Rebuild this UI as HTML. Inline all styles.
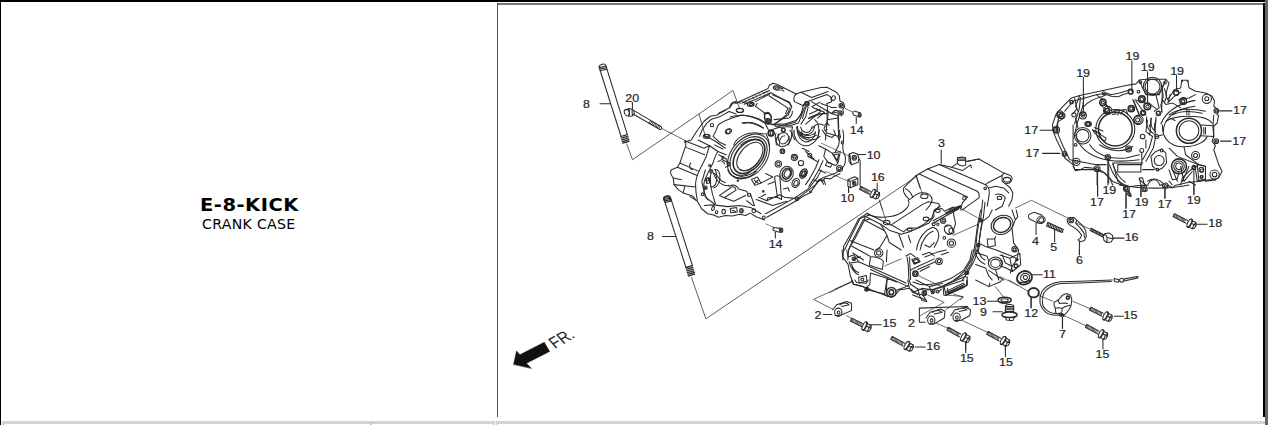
<!DOCTYPE html>
<html><head><meta charset="utf-8"><title>E-8-KICK CRANK CASE</title>
<style>
html,body{margin:0;padding:0;background:#fff;}
body{width:1269px;height:425px;overflow:hidden;position:relative;font-family:"DejaVu Sans","Liberation Sans",sans-serif;}
.b{position:absolute;}
#ttl{position:absolute;left:0;top:0;width:497px;color:#000;white-space:nowrap;}
#ttl .t1{position:absolute;left:199.6px;top:194px;font-weight:bold;font-size:18px;line-height:22px;letter-spacing:0.5px;transform-origin:0 0;transform:scaleX(1.08);}
#ttl .t2{position:absolute;left:202.4px;top:216.2px;font-size:13.3px;line-height:18px;letter-spacing:0.3px;transform-origin:0 0;transform:scaleX(1.06);}
svg{position:absolute;left:0;top:0;}
svg path,svg ellipse,svg circle,svg line,svg rect,svg polyline,svg polygon{vector-effect:non-scaling-stroke;}
svg text{font-family:"Liberation Sans",sans-serif;font-size:10.2px;fill:#222;}
</style></head><body>
<div class="b" style="left:0;top:0;width:1266px;height:2px;background:#000"></div>
<div class="b" style="left:0;top:0;width:1px;height:425px;background:#000"></div>
<div class="b" style="left:1265px;top:0;width:3px;height:425px;background:#666"></div>
<div class="b" style="left:1263px;top:3px;width:2px;height:414px;background:#000"></div>
<div class="b" style="left:497px;top:3px;width:766px;height:2px;background:#777"></div>
<div class="b" style="left:497px;top:3px;width:1px;height:414px;background:#555"></div>
<div class="b" style="left:2px;top:421px;width:1263px;height:3px;background:#d3d3d3"></div>
<div class="b" style="left:2px;top:424px;width:3px;height:1px;background:#d3d3d3"></div>
<div class="b" style="left:370px;top:422px;width:2px;height:3px;background:#c6c6c6"></div>
<div class="b" style="left:492px;top:424px;width:6px;height:1px;background:#d8d8d8"></div><div class="b" style="left:494.6px;top:421px;width:1.6px;height:4px;background:#f6f6f6"></div>
<div id="ttl"><div class="t1">E-8-KICK</div><div class="t2">CRANK CASE</div></div>
<svg width="1269" height="425" viewBox="0 0 1269 425">
<g fill="none" stroke="#2a2a2a" stroke-width="1.05" stroke-linecap="round" stroke-linejoin="round">


<g transform="translate(660,70) scale(0.16548)">
<path d="M672,330 L760,325 L820,305 C840,295 850,270 860,250 M690,300 L780,290 C795,280 800,265 800,250 M672,365 C700,345 760,340 800,345"/>
<circle cx="672" cy="382" r="18"/><circle cx="745" cy="362" r="12"/>
<path d="M800,345 C790,380 800,400 815,423 M830,340 C830,370 850,390 880,392 C910,390 930,370 935,340 M850,345 C855,365 870,378 890,378 C905,375 915,360 920,340 M935,300 C960,320 965,360 955,400 M900,290 C930,270 980,262 1010,262 M1010,240 L1010,300 L1000,423 M1030,262 L1075,275 L1080,423 M1010,300 L1075,290 M1000,340 C990,345 988,360 1000,368 L1010,360 M1010,380 L1075,400"/>
</g>
<g transform="translate(730,78) scale(0.11820)">
<path d="M90,195 L320,90 M105,210 L335,105 M120,222 L345,125"/>
<path d="M130,190 L138,202 M160,176 L168,188 M190,162 L198,174 M220,148 L228,160 M250,134 L258,146 M280,120 L288,132 M305,108 L313,120" stroke-width="0.8"/>
<path d="M320,90 L335,60 L365,45 L400,55 L560,135 M345,125 L500,210 L520,245 M330,150 L490,255 L470,300"/>
<ellipse cx="395" cy="85" rx="30" ry="17" transform="rotate(15 395 85)"/><ellipse cx="395" cy="85" rx="17" ry="9" transform="rotate(15 395 85)"/><path d="M428,78 L455,112 M452,82 L432,105"/>
<path d="M215,200 L335,135 M500,250 C510,290 470,320 430,350 L370,395 M215,240 L300,300 L330,295 L345,320 M230,215 L215,240"/>
<ellipse cx="175" cy="222" rx="28" ry="17" stroke-width="1.4"/><ellipse cx="178" cy="224" rx="14" ry="8"/><path d="M140,215 L100,200"/>
<ellipse cx="85" cy="275" rx="30" ry="17"/>
<path d="M0,250 C20,210 40,200 50,215 L90,195"/>
<circle cx="320" cy="365" r="22"/><circle cx="320" cy="365" r="10"/><path d="M290,300 L320,290 L345,310 L350,350 M290,300 L292,345"/>
<path d="M0,330 C100,300 200,320 290,380 M100,380 C150,370 220,390 280,423 M345,390 L420,400 L520,400"/>
<path d="M560,135 L600,120 L770,80 L820,78 L900,120 L925,150 L930,195 L960,210 L970,240 L955,265 L960,300 L940,320"/>
<path d="M560,135 C540,150 535,180 545,200 L620,235 L640,205 L820,140 L850,160 L860,200 L820,215 M600,120 L690,165 M690,165 L830,115"/>
<circle cx="650" cy="220" r="20"/><circle cx="650" cy="220" r="10"/><ellipse cx="875" cy="170" rx="16" ry="20" transform="rotate(20 875 170)"/><circle cx="940" cy="235" r="18"/><circle cx="940" cy="235" r="8"/><circle cx="930" cy="295" r="18"/><circle cx="930" cy="295" r="8"/>
<path d="M630,250 L600,330 L580,380 L520,400 M660,250 L640,330 L600,390 M690,200 L790,260 L860,300 L900,290 M700,250 L770,280 L700,340 L640,390 M730,260 L800,290 L740,340 M820,215 L830,300 L820,400 M915,315 L920,423 M860,300 C880,270 900,270 915,280 M770,215 L860,250 L900,250"/>
<path d="M970,255 L1040,290" stroke-width="0.7"/>
<path d="M1040,285 C1035,300 1045,315 1055,318 L1095,330 M1050,280 L1100,295"/><ellipse cx="1097" cy="312" rx="13" ry="18"/><ellipse cx="1097" cy="312" rx="7" ry="10"/>
<path d="M1068,335 L1068,385"/>
<path d="M700,423 C720,390 760,380 790,400 M800,400 L820,380 L840,400"/>
</g>
<g transform="translate(670,95) scale(0.11820)">
<path d="M120,400 L180,380 L230,300 L290,220 L340,180 L400,170 L420,150 L500,110 L520,70 L550,55 L600,70 M250,350 L270,300 L310,240 L350,205 L420,185 L500,140 L560,160"/>
<path d="M365,350 L385,310 L410,250 L470,215 L540,190 L610,170 L680,180 L750,200 L800,230 L830,290 M365,350 L420,400 L470,423 M410,160 L470,130"/>
<ellipse cx="590" cy="130" rx="30" ry="17"/><ellipse cx="310" cy="350" rx="30" ry="17"/><circle cx="355" cy="255" r="14"/><ellipse cx="495" cy="308" rx="28" ry="19" transform="rotate(-30 495 308)"/>
<path d="M620,240 C680,225 740,240 790,280 M540,423 C560,360 640,320 720,320 L800,330 M600,423 C640,380 700,370 760,380"/>
<circle cx="835" cy="225" r="22"/><circle cx="835" cy="225" r="10"/><circle cx="855" cy="320" r="25"/><circle cx="960" cy="295" r="14"/>
<path d="M800,170 C810,150 845,150 855,180 L860,215 M800,170 L805,210"/>
<path d="M900,423 C890,370 920,310 970,320 C1010,330 1020,390 1000,423 M925,423 C920,380 940,345 970,345"/>
<path d="M1090,300 C1100,360 1180,380 1240,340 M1070,270 C1080,380 1200,410 1269,350 M1110,310 C1130,350 1190,355 1230,320"/>
<path d="M870,0 L1010,60 L1030,100 L1000,170 L880,250 M1130,80 L1110,160 L1060,230 L900,270 M1150,100 L1120,200 M1200,100 L1269,60 M1180,160 L1269,120 M1170,200 L1269,160 M880,250 L900,270"/>
<circle cx="1160" cy="70" r="14"/>
</g>
<g transform="translate(660,130) scale(0.16548)">
<path d="M150,65 L265,110 L300,95 M150,65 C160,80 158,95 150,110 L120,200 L105,225 L70,240 C60,250 62,268 80,290 L85,330 L110,360 L140,380 L200,400 L215,423"/>
<path d="M158,105 L270,150 M120,200 L235,250 M105,225 L225,275 M85,330 L215,345 M80,290 L130,300 M140,380 L150,340 M185,200 C175,215 178,235 195,240"/>
<path d="M300,95 C290,120 285,140 280,160 L235,250 C222,280 215,310 215,330 C215,370 220,400 225,423"/>
<path d="M350,130 C335,150 328,175 320,200 L290,260 C275,290 265,310 265,330 C262,360 265,390 290,423"/>
<path d="M230,60 L300,95 L350,130 L400,150 M270,35 L330,65 L395,110 M330,90 L380,115"/>
<ellipse cx="282" cy="35" rx="14" ry="8"/><ellipse cx="412" cy="8" rx="12" ry="14"/>
<rect x="276" y="292" width="18" height="16" transform="rotate(-15 285 300)"/><rect x="266" y="340" width="18" height="16" transform="rotate(-10 275 348)"/>
<circle cx="310" cy="250" r="9"/><circle cx="258" cy="388" r="8"/><circle cx="300" cy="215" r="6"/>
<g transform="rotate(-50 535 160)"><ellipse cx="535" cy="160" rx="152" ry="106"/><ellipse cx="535" cy="160" rx="136" ry="92"/><ellipse cx="537" cy="162" rx="118" ry="76" stroke-width="1.6"/><ellipse cx="540" cy="166" rx="100" ry="60"/><path d="M440,170 C450,215 500,232 560,225" /></g>
<path d="M330,240 C345,235 360,250 362,275 C365,310 350,340 325,350 M320,260 C340,262 348,290 340,315 C335,335 320,345 305,345"/>
<path d="M355,150 L400,175 L420,215 L395,225 M370,175 L405,195 M350,190 C365,180 385,190 390,205"/>
<circle cx="415" cy="205" r="10"/><circle cx="380" cy="165" r="6"/>
<path d="M640,20 C650,40 660,70 662,100 M660,0 C665,10 668,25 668,35"/>
<circle cx="668" cy="20" r="14"/>
<path d="M700,20 C690,50 700,90 730,100 C760,105 790,80 795,40 C798,20 790,5 785,0 M715,25 C710,50 720,80 740,85 C760,85 778,65 780,40"/>
<path d="M810,0 C805,40 830,85 870,95 C910,100 950,70 960,20 L962,0 M830,0 C830,35 850,65 880,72 C910,72 935,50 940,10 M850,15 C860,40 880,50 900,48"/>
<circle cx="740" cy="128" r="14"/><circle cx="740" cy="128" r="7"/>
<circle cx="715" cy="205" r="19"/><circle cx="715" cy="205" r="10"/>
<circle cx="812" cy="165" r="19"/><path d="M800,165 a12,12 0 1,1 12,12 a7,7 0 1,1 5,-12"/>
<circle cx="852" cy="200" r="16"/><circle cx="905" cy="152" r="12"/>
<ellipse cx="765" cy="265" rx="40" ry="46" transform="rotate(20 765 265)"/><ellipse cx="765" cy="265" rx="26" ry="31" transform="rotate(20 765 265)"/>
<ellipse cx="866" cy="262" rx="18" ry="23" transform="rotate(25 866 262)"/><ellipse cx="866" cy="262" rx="9" ry="13" transform="rotate(25 866 262)"/>
<path d="M1105,0 C1112,30 1112,50 1108,70 C1100,100 1105,130 1120,160 C1122,190 1118,210 1108,222 L1060,262 L1000,282 L960,300 L940,330 L900,362 L850,400 L820,423"/>
<path d="M1085,0 C1090,30 1088,60 1080,90 L1060,130 M1075,40 a8,10 0 1,0 16,0 a8,10 0 1,0 -16,0 M1095,75 a7,9 0 1,0 14,0 a7,9 0 1,0 -14,0"/>
<path d="M980,0 L1000,30 L1040,45 L1060,25 L1050,0 M960,95 L1000,115 L1040,140 L1090,130 L1075,200 L1040,140 M1050,150 L1080,145 L1070,185 Z M1000,115 L990,160 L1020,200 L1060,215 L1075,200 M1010,190 L1040,205 L1030,225 L1000,215 Z"/>
<circle cx="1085" cy="232" r="18"/><circle cx="1085" cy="232" r="9"/>
<path d="M960,180 L940,230 L900,300 L880,330 M985,185 L960,240 L925,300 L900,340 M960,240 L1000,260 M925,300 L950,310 L990,300 L1000,330"/>
<path d="M880,130 L930,175 M905,165 L950,190 M860,110 L900,130"/>
<path d="M975,80 L1150,160 M1000,250 L1140,310" stroke-width="0.6"/>
<path d="M25,423 L25,408 C35,400 55,402 60,412 L60,423" stroke-width="1.8"/>
</g>
<g transform="translate(690,170) scale(0.11820)">
<path d="M0,225 L60,260 L100,330 L150,370 L200,380 L240,400 L300,385 L360,390 L420,375 L470,385 L510,365 L560,395 L600,410 L630,423 M650,400 L900,260 L960,220 L1020,190 L1060,130 L1100,80 L1120,100 L1140,70 L1190,75 L1210,60 L1269,30"/>
<path d="M120,300 L200,295 L320,310 L420,300 L520,320 L600,370 M640,370 L880,240 L940,200 L1000,160 L1040,110 L1080,60 L1100,20 L1110,0"/>
<ellipse cx="195" cy="325" rx="11" ry="18" transform="rotate(25 195 325)"/><ellipse cx="225" cy="357" rx="10" ry="12"/><ellipse cx="285" cy="352" rx="15" ry="19"/><ellipse cx="435" cy="345" rx="15" ry="19"/><ellipse cx="437" cy="347" rx="8" ry="11"/><circle cx="540" cy="345" r="16"/><circle cx="625" cy="402" r="12"/><circle cx="905" cy="245" r="14"/><circle cx="1020" cy="185" r="8"/>
<path d="M340,325 L395,318 L400,355 L345,362 Z M355,340 L385,352"/>
<path d="M250,215 L345,150 M290,235 L390,170 M370,265 L470,215 M250,215 L290,235 L370,265 M330,140 C350,118 400,128 410,160 L480,180 L490,210 M345,150 C355,135 385,140 390,170"/>
<path d="M580,230 L650,260 L760,210 M560,250 L700,300 L820,265 M600,225 L640,205 M650,260 L660,235 L740,230 M480,260 L530,300 L545,300 L510,200"/>
<path d="M715,60 L740,230 L775,250 L760,60 M715,60 C725,45 750,45 760,60"/>
<circle cx="500" cy="210" r="14"/><circle cx="620" cy="180" r="7"/><circle cx="405" cy="90" r="6"/><circle cx="130" cy="155" r="7"/>
<path d="M520,80 L570,60 L600,110 L550,130 Z M545,85 L575,110 M575,85 L550,112"/>
<path d="M200,30 C230,120 300,140 330,130 M215,0 C225,60 260,100 300,105 M130,0 L100,100 L130,230 L210,290 M180,0 C160,80 170,160 215,285 M350,0 C380,60 480,60 520,0 M320,0 C350,90 500,90 560,10"/>
<path d="M140,70 L165,65 L165,110 L140,115 Z"/>
<ellipse cx="820" cy="30" rx="38" ry="50" transform="rotate(30 820 30)"/><ellipse cx="823" cy="30" rx="24" ry="34" transform="rotate(30 823 30)"/><ellipse cx="895" cy="110" rx="30" ry="40" transform="rotate(30 895 110)"/><ellipse cx="897" cy="112" rx="16" ry="24" transform="rotate(30 897 112)"/><ellipse cx="960" cy="30" rx="28" ry="44" transform="rotate(30 960 30)"/><ellipse cx="962" cy="32" rx="15" ry="26" transform="rotate(30 962 32)"/>
<path d="M790,160 L830,150 L840,180 M1110,80 L1130,120 M760,210 L800,230 L880,240 M660,120 L715,100 M640,30 L700,60 M600,110 L700,60"/>
</g>
<g transform="translate(660,190) scale(0.16548)">
<path d="M640,205 L690,228" stroke-width="0.6"/>
<path d="M690,226 L728,232 M685,245 L722,255 M685,245 C680,238 683,228 690,226"/><ellipse cx="732" cy="243" rx="10" ry="13"/><ellipse cx="732" cy="243" rx="5" ry="7"/>
<path d="M697,255 L697,290"/>
<path d="M1140,0 L1140,15"/>
<path d="M1269,150 L1240,160 L1200,175 L1150,270 L1110,340 L1105,423 M1269,175 L1235,185 L1180,290 L1140,360 L1135,423 M1240,160 L1235,185 M1160,340 L1269,400 M1165,380 L1230,423 M1190,400 a10,10 0 1,0 20,0"/>
</g>
<!-- upper stud 8 -->
<path d="M598.9,66.5 L620.9,136 M605.7,65.2 L627.2,134.2 M598.9,66.5 C600,64 604.5,63.3 605.7,65.2"/>
<path d="M599.3,67.6 L606,66.2 M599.8,69 L606.5,67.7 M600.3,70.5 L607,69.2" stroke-width="1.1"/>
<path d="M620.8,136.5 L627.4,134.6 M621.3,138.2 L627.9,136.3 M621.8,139.9 L628.4,138 M622.3,141.6 L628.9,139.7 M622.8,143.2 L629,141.3" stroke-width="1.3"/>
<path d="M626.7,144 L632.5,159.7 L733,90.5 L739.5,108.5 M699,114 L705,135" stroke-width="0.75"/>
<path d="M600,103.8 L610,103.8"/>
<!-- bolt 20 -->
<path d="M632.4,102.3 L632.4,108.8"/>
<ellipse cx="626.9" cy="112.6" rx="2.4" ry="3.4" transform="rotate(-25 626.9 112.6)"/>
<path d="M625.3,110 L629,108.6 L632,109.2 L634,111.2 L634.2,114 L632,116 L628.5,116.2 M629,108.6 L629.5,112 L628.5,116.2 M632,109.2 L632.3,115.8"/>
<path d="M634,110.6 L661.2,126.6 M633.5,114.2 L660.2,129.6 M661.2,126.6 C662.4,127.4 661.6,129.6 660.2,129.6"/>
<path d="M650.5,120.4 L649,123.4 M651.9,121.2 L650.4,124.2 M653.3,122 L651.8,125 M654.7,122.8 L653.2,125.8 M656.1,123.6 L654.6,126.6 M657.5,124.4 L656,127.4 M658.9,125.2 L657.4,128.2 M660.3,126 L658.8,129" stroke-width="0.9"/>
<path d="M661.6,128.4 L686,141" stroke-width="0.7"/>
<!-- lower stud 8 -->
<path d="M663.6,198.2 L685.8,267 M670.3,196.9 L692.4,265.5 M663.6,198.2 C664.8,195.6 669.2,195 670.3,196.9"/>
<path d="M664,199.4 L670.7,198 M664.5,200.9 L671.2,199.5 M665,202.4 L671.7,201" stroke-width="1.1"/>
<path d="M685.8,267.5 L692.4,265.7 M686.3,269.2 L692.9,267.4 M686.8,270.9 L693.4,269.1 M687.3,272.6 L693.9,270.8 M687.8,274.3 L694.4,272.5 M688.3,276 L694.6,274.2" stroke-width="1.3"/>
<path d="M691.5,277.5 L705.9,318.8 L917.7,175.6" stroke-width="0.75"/>
<path d="M662.5,236.5 L675.7,236.5"/>

<polygon points="513.6,364.3 516.5,351 519.9,354.7 544.3,342.3 549.6,351.4 526.5,363.3 531.1,368.2" fill="#111" stroke="#111" stroke-width="0.5"/>
<text transform="matrix(0.74,-0.43,0.667,0.75,555.0,349.0)" style="font-size:17.5px;fill:#222;stroke:none">FR.</text>
<path d="M965.7,341.5 L965.7,352.6 M1005.4,345.6 L1005.4,356.5"/>

<path d="M823.3,314.5 L831.8,314.5"/>
<path d="M851.8,281.8 L813.5,299.4 L832.9,309.4" stroke-width="0.7"/>

<path d="M859.5,189.2 L869.4,194.2 M860.9,186.4 L870.8,191.4 M859.5,189.2 L860.9,186.4"/>
<path d="M860.3,189.6 L860.8,186.4 M861.5,190.2 L862.0,187.0 M862.7,190.8 L863.2,187.6 M863.9,191.4 L864.4,188.2 M865.1,192.0 L865.6,188.8 M866.3,192.6 L866.8,189.4 M867.5,193.2 L868.0,190.0 M868.7,193.8 L869.2,190.6" stroke-width="0.85" stroke="#444"/>
<g transform="translate(875.0,194.4) rotate(26.8)">
<ellipse cx="-2.6" cy="0" rx="1.6" ry="4.4"/>
<path d="M-2.6,-4.4 L-1.2,-4.4 M-2.6,4.4 L-1.2,4.4 M-1.2,-4.4 C0,-3 0,3 -1.2,4.4 M-0.6,-3.4 L3.2,-3.6 L4.6,-1.2 L4.4,2.2 L2.6,3.9 L-0.6,3.6 M3.2,-3.6 L2.4,-0.6 L2.6,3.9 M2.4,-0.6 L-0.3,-0.8 M2.4,-0.6 L4.6,-1.2"/>
</g>
<path d="M850.4,321.0 L862.0,326.7 M851.8,318.2 L863.4,323.9 M850.4,321.0 L851.8,318.2"/>
<path d="M851.2,321.4 L851.7,318.2 M852.4,322.0 L852.9,318.8 M853.6,322.6 L854.1,319.4 M854.9,323.2 L855.3,320.0 M856.1,323.8 L856.5,320.5 M857.3,324.4 L857.8,321.1 M858.5,325.0 L859.0,321.7 M859.7,325.6 L860.2,322.3 M860.9,326.2 L861.4,322.9" stroke-width="0.85" stroke="#444"/>
<g transform="translate(866.6,327.0) rotate(26.2)">
<ellipse cx="-2.6" cy="0" rx="1.6" ry="4.4"/>
<path d="M-2.6,-4.4 L-1.2,-4.4 M-2.6,4.4 L-1.2,4.4 M-1.2,-4.4 C0,-3 0,3 -1.2,4.4 M-0.6,-3.4 L3.2,-3.6 L4.6,-1.2 L4.4,2.2 L2.6,3.9 L-0.6,3.6 M3.2,-3.6 L2.4,-0.6 L2.6,3.9 M2.4,-0.6 L-0.3,-0.8 M2.4,-0.6 L4.6,-1.2"/>
</g>
<path d="M890.7,339.2 L903.1,346.1 M892.3,336.4 L904.7,343.3 M890.7,339.2 L892.3,336.4"/>
<path d="M891.5,339.6 L892.2,336.4 M892.7,340.2 L893.3,337.1 M893.9,340.9 L894.5,337.7 M895.1,341.6 L895.7,338.4 M896.3,342.2 L896.9,339.0 M897.4,342.9 L898.1,339.7 M898.6,343.5 L899.2,340.3 M899.8,344.2 L900.4,341.0 M901.0,344.8 L901.6,341.6 M902.1,345.5 L902.8,342.3" stroke-width="0.85" stroke="#444"/>
<g transform="translate(908.8,346.6) rotate(29.1)">
<ellipse cx="-2.6" cy="0" rx="1.6" ry="4.4"/>
<path d="M-2.6,-4.4 L-1.2,-4.4 M-2.6,4.4 L-1.2,4.4 M-1.2,-4.4 C0,-3 0,3 -1.2,4.4 M-0.6,-3.4 L3.2,-3.6 L4.6,-1.2 L4.4,2.2 L2.6,3.9 L-0.6,3.6 M3.2,-3.6 L2.4,-0.6 L2.6,3.9 M2.4,-0.6 L-0.3,-0.8 M2.4,-0.6 L4.6,-1.2"/>
</g>
<path d="M947.0,330.1 L959.5,337.0 M948.4,327.3 L960.9,334.2 M947.0,330.1 L948.4,327.3"/>
<path d="M947.7,330.5 L948.4,327.3 M948.9,331.1 L949.5,327.9 M950.1,331.8 L950.7,328.6 M951.3,332.4 L951.9,329.3 M952.5,333.1 L953.1,329.9 M953.6,333.8 L954.3,330.6 M954.8,334.4 L955.5,331.2 M956.0,335.1 L956.6,331.9 M957.2,335.7 L957.8,332.5 M958.4,336.4 L959.0,333.2" stroke-width="0.85" stroke="#444"/>
<g transform="translate(965.4,338.0) rotate(28.9)">
<ellipse cx="-2.6" cy="0" rx="1.6" ry="4.4"/>
<path d="M-2.6,-4.4 L-1.2,-4.4 M-2.6,4.4 L-1.2,4.4 M-1.2,-4.4 C0,-3 0,3 -1.2,4.4 M-0.6,-3.4 L3.2,-3.6 L4.6,-1.2 L4.4,2.2 L2.6,3.9 L-0.6,3.6 M3.2,-3.6 L2.4,-0.6 L2.6,3.9 M2.4,-0.6 L-0.3,-0.8 M2.4,-0.6 L4.6,-1.2"/>
</g>
<path d="M986.7,334.2 L999.1,341.1 M988.3,331.4 L1000.7,338.3 M986.7,334.2 L988.3,331.4"/>
<path d="M987.5,334.6 L988.2,331.4 M988.7,335.2 L989.3,332.1 M989.9,335.9 L990.5,332.7 M991.1,336.6 L991.7,333.4 M992.3,337.2 L992.9,334.0 M993.4,337.9 L994.1,334.7 M994.6,338.5 L995.2,335.3 M995.8,339.2 L996.4,336.0 M997.0,339.8 L997.6,336.6 M998.1,340.5 L998.8,337.3" stroke-width="0.85" stroke="#444"/>
<g transform="translate(1005.1,341.6) rotate(29.1)">
<ellipse cx="-2.6" cy="0" rx="1.6" ry="4.4"/>
<path d="M-2.6,-4.4 L-1.2,-4.4 M-2.6,4.4 L-1.2,4.4 M-1.2,-4.4 C0,-3 0,3 -1.2,4.4 M-0.6,-3.4 L3.2,-3.6 L4.6,-1.2 L4.4,2.2 L2.6,3.9 L-0.6,3.6 M3.2,-3.6 L2.4,-0.6 L2.6,3.9 M2.4,-0.6 L-0.3,-0.8 M2.4,-0.6 L4.6,-1.2"/>
</g>
<path d="M1173.0,216.5 L1186.1,223.3 M1174.4,213.7 L1187.5,220.5 M1173.0,216.5 L1174.4,213.7"/>
<path d="M1173.8,216.9 L1174.3,213.7 M1175.0,217.5 L1175.5,214.3 M1176.2,218.1 L1176.7,214.9 M1177.4,218.8 L1177.9,215.5 M1178.6,219.4 L1179.1,216.2 M1179.8,220.0 L1180.3,216.8 M1181.0,220.6 L1181.5,217.4 M1182.2,221.2 L1182.7,218.0 M1183.4,221.9 L1183.9,218.7 M1184.6,222.5 L1185.1,219.3" stroke-width="0.85" stroke="#444"/>
<g transform="translate(1191.6,224.2) rotate(27.4)">
<ellipse cx="-2.6" cy="0" rx="1.6" ry="4.4"/>
<path d="M-2.6,-4.4 L-1.2,-4.4 M-2.6,4.4 L-1.2,4.4 M-1.2,-4.4 C0,-3 0,3 -1.2,4.4 M-0.6,-3.4 L3.2,-3.6 L4.6,-1.2 L4.4,2.2 L2.6,3.9 L-0.6,3.6 M3.2,-3.6 L2.4,-0.6 L2.6,3.9 M2.4,-0.6 L-0.3,-0.8 M2.4,-0.6 L4.6,-1.2"/>
</g>
<path d="M1089.5,310.0 L1101.7,316.1 M1090.9,307.2 L1103.1,313.3 M1089.5,310.0 L1090.9,307.2"/>
<path d="M1090.3,310.4 L1090.8,307.2 M1091.5,311.0 L1092.0,307.8 M1092.7,311.6 L1093.2,308.4 M1093.9,312.2 L1094.4,309.0 M1095.1,312.8 L1095.6,309.6 M1096.3,313.4 L1096.8,310.2 M1097.6,314.0 L1098.0,310.8 M1098.8,314.6 L1099.3,311.4 M1100.0,315.2 L1100.5,312.0 M1101.2,315.8 L1101.7,312.6" stroke-width="0.85" stroke="#444"/>
<g transform="translate(1107.6,316.9) rotate(26.6)">
<ellipse cx="-2.6" cy="0" rx="1.6" ry="4.4"/>
<path d="M-2.6,-4.4 L-1.2,-4.4 M-2.6,4.4 L-1.2,4.4 M-1.2,-4.4 C0,-3 0,3 -1.2,4.4 M-0.6,-3.4 L3.2,-3.6 L4.6,-1.2 L4.4,2.2 L2.6,3.9 L-0.6,3.6 M3.2,-3.6 L2.4,-0.6 L2.6,3.9 M2.4,-0.6 L-0.3,-0.8 M2.4,-0.6 L4.6,-1.2"/>
</g>
<path d="M1085.4,327.3 L1097.6,333.9 M1086.8,324.5 L1099.0,331.1 M1085.4,327.3 L1086.8,324.5"/>
<path d="M1086.2,327.7 L1086.7,324.5 M1087.3,328.3 L1087.9,325.1 M1088.5,329.0 L1089.1,325.8 M1089.7,329.6 L1090.3,326.4 M1090.9,330.3 L1091.5,327.1 M1092.1,330.9 L1092.7,327.7 M1093.3,331.5 L1093.9,328.3 M1094.5,332.2 L1095.1,329.0 M1095.7,332.8 L1096.2,329.6 M1096.8,333.5 L1097.4,330.3" stroke-width="0.85" stroke="#444"/>
<g transform="translate(1103.0,334.8) rotate(28.4)">
<ellipse cx="-2.6" cy="0" rx="1.6" ry="4.4"/>
<path d="M-2.6,-4.4 L-1.2,-4.4 M-2.6,4.4 L-1.2,4.4 M-1.2,-4.4 C0,-3 0,3 -1.2,4.4 M-0.6,-3.4 L3.2,-3.6 L4.6,-1.2 L4.4,2.2 L2.6,3.9 L-0.6,3.6 M3.2,-3.6 L2.4,-0.6 L2.6,3.9 M2.4,-0.6 L-0.3,-0.8 M2.4,-0.6 L4.6,-1.2"/>
</g>

<g transform="translate(830,140) scale(0.16548)">
<path d="M112,318 L112,285 M285,260 L285,305"/>
<path d="M522,220 L560,330 M300,370 L318,423" stroke-width="0.7"/>
<path d="M672,60 L672,140"/>
<path d="M445,290 L520,215 L590,175 L660,148 L735,165 M445,290 C440,310 450,335 480,360 L520,330 C540,318 580,312 600,330 C620,345 622,370 600,400 L580,423"/>
<path d="M660,148 L940,270 M590,175 L890,310 M540,205 L830,345 M520,215 L545,290 M455,295 C470,300 490,320 500,345"/>
<ellipse cx="570" cy="340" rx="22" ry="14"/>
<path d="M940,270 L960,255 L1040,215 L1050,200 L900,115 L830,130 M940,270 C955,280 965,300 962,330 L950,400 M890,310 C900,320 905,335 900,350 M830,345 L800,380 L790,423 M900,350 L830,400 L800,423"/>
<circle cx="812" cy="352" r="10"/><circle cx="938" cy="292" r="8"/>
<path d="M1050,200 L1090,215 C1105,225 1105,245 1085,260 L1060,265 L1040,250 L1040,215 M1060,265 L1090,290 L1105,320 L1100,360 L1080,400 M960,290 L1000,280 L1050,290 L1080,320 M1000,330 C1020,320 1050,330 1060,350 L1040,400 L1000,423 M1010,350 a14,10 0 1,0 28,0 a14,10 0 1,0 -28,0"/>
<ellipse cx="1070" cy="240" rx="22" ry="14"/>
<path d="M735,165 L800,185 L850,150 L855,168 M770,140 L770,110 C775,100 815,100 820,110 L820,150 C810,160 780,158 770,140 M735,165 L770,140"/>
<path d="M772,108 L818,108 M772,116 L818,116 M772,124 L818,124" stroke-width="0.9"/>
<path d="M820,130 L900,115"/>
<path d="M640,423 L660,400 M720,423 C740,405 770,400 790,410"/>
<path d="M115,85 L140,75 L165,85 L175,110 L170,135 L130,150 L115,130 Z M120,88 L125,128 L130,150 M175,110 L182,125 L182,280"/><ellipse cx="147" cy="107" rx="13" ry="15"/><ellipse cx="147" cy="107" rx="6" ry="7"/>
<path d="M108,240 L150,222 L168,232 L168,270 L122,288 L108,280 Z M122,288 L122,250 L108,240 M122,250 L168,232"/><ellipse cx="146" cy="262" rx="11" ry="12"/><ellipse cx="146" cy="262" rx="5" ry="6"/>
<path d="M165,88 L215,88"/>
</g>
<g transform="translate(830,210) scale(0.16548)">
<path d="M900,50 C892,80 888,120 880,180 C875,220 865,270 850,310 L820,360 L780,400 L750,423 M920,70 C912,100 908,150 900,200 C892,250 880,290 865,320 L835,370 L800,423"/>
<path d="M910,0 L900,50 L920,70 L960,40 L980,0 M900,200 L940,220 L1000,240 L1100,280 L1140,300 M890,260 L950,280 L960,310 M880,330 L940,350 L960,400 L980,423"/>
<circle cx="910" cy="60" r="9"/><circle cx="895" cy="215" r="9"/><circle cx="830" cy="380" r="9"/>
<g transform="rotate(-25 1040 90)"><ellipse cx="1040" cy="90" rx="68" ry="56"/><ellipse cx="1040" cy="90" rx="54" ry="43" stroke-width="1.5"/></g>
<path d="M1100,0 L1120,60 L1100,110 L1110,200 L1140,240 L1130,300 L1100,340 M1120,60 L1135,40 L1125,0 M950,175 L995,175 L1000,215 L955,225 Z M995,175 L1000,160"/>
<ellipse cx="1000" cy="322" rx="43" ry="38"/><ellipse cx="1000" cy="322" rx="29" ry="25"/>
<circle cx="1115" cy="237" r="16"/><circle cx="1115" cy="237" r="8"/><circle cx="1125" cy="337" r="12"/>
<path d="M1040,270 L1060,320 L1100,340 L1090,380 M960,365 L1010,400 L1050,423 M1000,360 L1020,423"/>
</g>
<g transform="translate(835,200) scale(0.11820)">
<path d="M375,0 L432,178 M1040,58 L1205,150 M1000,300 L1210,205" stroke-width="0.7"/>
<path d="M620,0 C650,60 560,125 470,140 C400,152 320,140 275,118"/>
<path d="M215,150 L250,128 L270,112 L400,178 L470,212 M250,135 L385,205 L460,255 L560,290 L625,270 L710,235 L795,195 L838,140 L835,100 L855,78 L905,72 L925,95 L1000,60"/>
<path d="M475,210 L745,35 L790,15 L875,30 L890,55 L840,85 L820,150 L760,200 L700,235 L615,240 L580,270 Z"/>
<ellipse cx="437" cy="190" rx="28" ry="19"/><ellipse cx="632" cy="250" rx="20" ry="13"/><ellipse cx="870" cy="92" rx="20" ry="13"/><ellipse cx="770" cy="160" rx="24" ry="15"/>
<path d="M215,150 L120,340 L80,423 M240,165 L150,340 L115,423 M240,165 L420,260 L440,300 L380,400 L350,423 M130,345 L330,423 M440,300 L460,360 L560,423 M540,290 L580,400 M620,300 L640,360 M420,260 L385,205"/>
<path d="M830,175 L1060,50 M820,200 L1050,75 M845,190 L1055,62"/>
<path d="M940,112 L1060,52" stroke-width="2"/>
<ellipse cx="960" cy="250" rx="34" ry="40" transform="rotate(-25 960 250)"/><ellipse cx="985" cy="262" rx="20" ry="25" transform="rotate(-25 985 262)"/><path d="M935,225 L965,215 M950,290 L995,285"/>
<circle cx="985" cy="365" r="35"/><circle cx="985" cy="365" r="18"/>
<circle cx="915" cy="175" r="22"/><circle cx="915" cy="175" r="10"/><circle cx="835" cy="205" r="12"/><circle cx="925" cy="320" r="12"/><circle cx="870" cy="205" r="10"/>
<path d="M690,423 C700,330 760,250 830,230 C870,240 890,290 870,340 L840,400 M720,423 C730,350 780,280 830,265 M760,380 L800,400 L840,360"/>
<path d="M1000,100 L1020,200 L1000,260 M1250,0 L1235,140 L1215,200 L1200,300 L1190,423 M1269,20 L1255,150 L1240,220 L1225,300 L1215,423"/><circle cx="1232" cy="172" r="14"/><circle cx="1215" cy="380" r="12"/>
</g>
<g transform="translate(835,250) scale(0.11820)">
<path d="M0,330 L140,270 M420,135 L560,75 M1000,370 L1085,400 L1060,423 M700,215 L900,310" stroke-width="0.7"/>
<path d="M60,0 L65,60 L110,120 L130,220 L160,290 L210,300 L260,320 L440,390 L480,400 M520,340 L600,310 L620,300"/>
<circle cx="478" cy="355" r="40"/><circle cx="478" cy="355" r="20"/>
<circle cx="370" cy="25" r="35"/><circle cx="370" cy="25" r="18"/>
<path d="M300,60 L290,130 L400,165 L410,95 M440,0 L435,100 M300,60 C320,50 390,70 410,95 M100,0 L110,60 L160,40 L200,100"/>
<path d="M200,100 L600,280 M300,165 L620,310 M130,110 L200,100 M300,195 L440,240 L435,340 M300,195 L295,290 L260,320 M440,240 L520,270"/>
<circle cx="160" cy="75" r="16"/><circle cx="160" cy="75" r="7"/><path d="M120,100 C130,150 170,200 200,210 M200,230 L265,215 L270,265 L205,280 Z M140,120 C150,160 175,185 200,190"/><circle cx="232" cy="250" r="12"/><circle cx="265" cy="335" r="14"/><circle cx="265" cy="335" r="7"/>
<path d="M610,60 L620,130 L625,250 L640,290 M600,50 L640,30 L680,60 M630,60 L640,250"/>
<path d="M650,80 L700,65 L720,100 L670,120 Z M662,88 L695,78 L708,100 L675,110 Z"/>
<circle cx="880" cy="95" r="28"/><circle cx="880" cy="95" r="14"/><circle cx="680" cy="200" r="22" stroke-width="1.5"/><circle cx="680" cy="200" r="10"/><circle cx="760" cy="360" r="14"/><circle cx="835" cy="350" r="12"/><circle cx="1110" cy="195" r="12"/>
<path d="M640,170 L700,140 L840,75 M700,165 L850,100 M720,180 L800,140 M740,40 L800,20 L840,50 M760,60 L860,20 L940,0 M900,40 L960,20"/>
<path d="M640,290 L700,330 L760,340 L840,330 L920,300 L1000,260 L1100,200 L1150,120 L1180,40 L1200,0 M660,270 C760,320 900,280 1000,230 L1090,170 L1140,90 L1160,0"/>
<path d="M915,305 L1100,225 L1120,230 L1110,300 L940,385 L920,380 Z M940,350 L1090,280" /><path d="M945,362 L1095,292" stroke-width="1.3"/>
<path d="M1180,0 C1200,80 1240,110 1269,120 M1210,0 C1225,50 1245,75 1269,85 M870,360 L900,330 M700,330 L720,400 L760,423 M640,330 L700,380"/>
</g>
<g transform="translate(830,280) scale(0.16548)">
<path d="M0,75 L130,10 M590,90 L690,135 L545,215 M700,90 L805,100 L700,180 M640,260 L720,295 M800,245 L960,320 M100,215 L135,235 M1000,40 L1050,105 M1080,0 L1200,70" stroke-width="0.7"/>
<path d="M130,0 L140,25 L200,40 L230,60 L330,85 L350,100 L390,95 L420,60 L480,50 L500,75 L560,90 L580,120 L585,130 L560,125 M330,85 L340,20 L345,0 M480,50 L470,0 M500,75 L560,50 L620,60 L690,40 L810,0 M520,0 L600,40 L680,20 M600,40 L610,70"/>
<circle cx="370" cy="75" r="28"/><circle cx="370" cy="75" r="14"/><circle cx="570" cy="80" r="14"/><circle cx="570" cy="80" r="6"/><circle cx="225" cy="55" r="10"/><circle cx="620" cy="75" r="8"/><circle cx="650" cy="70" r="8"/>
<path d="M690,40 L700,90 L800,50 L830,30 L830,0 M710,50 L715,78 L810,38 M500,90 L550,110 L555,125 M150,0 L160,15 L220,20 L230,0"/>
<path d="M15,180 L40,150 L100,130 L130,140 L130,185 L60,215 L30,215 M60,150 C75,135 105,135 115,150 M70,160 L115,150"/><ellipse cx="50" cy="195" rx="22" ry="25"/><ellipse cx="52" cy="197" rx="8" ry="10"/>
<path d="M245,270 L310,270 M515,405 L575,405 M950,128 L1010,128 M985,192 L1040,192 M1215,105 L1215,165 M820,380 L820,423 M1060,400 L1060,423"/>
<path d="M540,170 L540,255 L575,255 M540,170 L830,160 L835,168"/>
<path d="M580,230 L605,195 L670,175 L695,190 L690,230 L630,265 L600,265 M620,195 C635,180 665,180 675,195 M630,205 L678,195"/><ellipse cx="612" cy="243" rx="22" ry="25"/><ellipse cx="614" cy="245" rx="8" ry="10"/>
<path d="M730,215 L755,180 L820,165 L850,180 L845,215 L790,245 L755,245 M770,180 C785,168 815,168 825,180 M780,190 L828,180"/><ellipse cx="765" cy="225" rx="22" ry="25"/><ellipse cx="767" cy="227" rx="8" ry="10"/>
<ellipse cx="1055" cy="122" rx="40" ry="18" stroke-width="1.6"/><ellipse cx="1055" cy="122" rx="22" ry="9"/>
<ellipse cx="1085" cy="210" rx="46" ry="17" stroke-width="1.4"/><path d="M1060,198 L1060,155 C1070,145 1100,145 1110,155 L1110,198 M1062,160 L1108,160 M1062,170 L1108,170 M1062,180 L1108,180 M1062,190 L1108,190 M1062,225 L1065,242 L1105,245 L1115,225 M1085,228 L1085,245"/>
<path d="M880,0 L960,40 L1030,10 L1040,0 M960,40 L965,20"/>
<path d="M1130,0 C1140,20 1180,25 1210,0"/>
</g>
<g transform="translate(1040,45) scale(0.16548)">
<path d="M262,195 L262,410 M555,95 L555,280 M650,160 L650,360 M825,185 L825,280 M1085,398 L1160,398"/>
<path d="M95,423 L130,380 L190,320 L240,305 L380,275 L520,245 L580,235 L600,212 L640,207 L760,207 L780,230 L770,260 L760,300 L770,330 L800,290 L810,270 L850,260 L855,225 L855,213 L895,213 L895,225 L900,258 L940,280 L1000,290 L1040,310 L1055,340 L1050,370 L1080,395 L1070,423"/>
<path d="M150,400 L200,340 L340,300 L400,290 L430,300 L480,290 L530,275 M240,305 L215,370 L230,400 M340,300 L380,330 M400,360 L420,400 M560,330 L600,423 M740,330 L760,360 L800,350 L850,380 M780,423 C820,390 900,380 1000,400 M800,423 C840,400 900,395 980,412 M900,395 L900,423 M740,260 L735,400 M600,212 L620,260 L640,300 L720,300 L740,260 L760,207 M440,400 L520,390 M470,423 L480,400 M700,300 L720,380 L690,400 M580,340 L640,423"/>
<circle cx="680" cy="250" r="55"/><circle cx="680" cy="252" r="45"/>
<circle cx="607" cy="225" r="8"/><circle cx="755" cy="228" r="8"/><circle cx="548" cy="282" r="14" stroke-width="1.6"/><circle cx="595" cy="282" r="8"/><circle cx="385" cy="292" r="9"/>
<circle cx="380" cy="348" r="18"/><circle cx="380" cy="348" r="9"/><circle cx="615" cy="328" r="18"/><circle cx="650" cy="372" r="20"/><circle cx="650" cy="372" r="10"/><circle cx="550" cy="385" r="16"/><circle cx="625" cy="410" r="12"/>
<circle cx="823" cy="290" r="14"/><circle cx="865" cy="340" r="20"/><circle cx="865" cy="340" r="10"/><circle cx="1008" cy="325" r="28"/><circle cx="1008" cy="325" r="12"/><circle cx="1065" cy="398" r="14"/><circle cx="1065" cy="398" r="7"/>
<circle cx="190" cy="345" r="10"/><circle cx="262" cy="415" r="12"/><circle cx="120" cy="415" r="18"/><circle cx="405" cy="400" r="16"/><circle cx="715" cy="410" r="10"/>
<path d="M860,213 L860,222 M890,213 L890,222 M840,330 L900,320 L940,300"/>
</g>
<g transform="translate(1045,85) scale(0.11820)">
<path d="M100,390 L110,310 L160,280 M250,110 L270,200 L240,240 M330,100 L320,180 L270,330 L250,423 M300,105 L290,200 L250,330 M330,180 C380,130 440,110 480,100 L520,80 L560,95 L620,100 L660,80 L700,70"/>
<ellipse cx="135" cy="258" rx="35" ry="28"/><ellipse cx="135" cy="258" rx="18" ry="13"/><circle cx="95" cy="380" r="28"/><circle cx="225" cy="145" r="14"/><circle cx="320" cy="258" r="30"/><circle cx="320" cy="258" r="15"/><circle cx="245" cy="252" r="18"/><ellipse cx="365" cy="330" rx="28" ry="20"/><ellipse cx="365" cy="330" rx="14" ry="10"/>
<circle cx="490" cy="145" r="28"/><circle cx="530" cy="215" r="35"/><circle cx="530" cy="215" r="18"/><circle cx="820" cy="120" r="30"/><circle cx="820" cy="120" r="15"/><circle cx="865" cy="180" r="30"/><circle cx="730" cy="200" r="28"/><circle cx="730" cy="200" r="14"/><circle cx="830" cy="235" r="22"/><circle cx="790" cy="295" r="40"/><circle cx="960" cy="240" r="20"/><circle cx="1110" cy="65" r="22"/><circle cx="1170" cy="135" r="28"/>
<path d="M470,170 L510,200 M500,160 L545,190 M750,130 L800,260 M760,125 L900,170 L940,200 M590,215 L600,245 L570,250 M640,245 L670,210 M690,215 L700,250 M400,380 L470,410 M420,360 L490,390"/>
<path d="M990,0 L1000,100 L980,170 L990,230 M1010,30 L1030,90 L1010,150 M1060,80 L1040,150 L1090,100 L1150,60 M1000,400 C1000,280 1100,200 1269,180 M980,330 C1020,230 1120,160 1269,130 M860,270 C850,330 870,380 900,400 M900,280 C890,330 905,370 930,390 M940,270 L930,400 M1060,280 L1100,300 M1200,200 L1200,250"/>
</g>
<g transform="translate(1040,115) scale(0.16548)">
<path d="M0,92 L75,92 M15,232 L120,232 M1090,158 L1155,158 M410,270 L410,423 M345,345 L345,423"/>
<path d="M95,0 L75,60 L80,100 L100,150 L130,210 L150,260 L200,300 L210,330 L330,330 L390,350 L420,380 L440,423 M115,10 L100,70 L110,120 L140,190 L180,270 L230,280 L340,300 L400,300"/>
<circle cx="95" cy="90" r="14"/><circle cx="95" cy="90" r="7"/><circle cx="148" cy="235" r="14"/><circle cx="148" cy="235" r="7"/><circle cx="220" cy="283" r="22"/><circle cx="220" cy="283" r="10"/><circle cx="345" cy="325" r="18"/><circle cx="345" cy="325" r="9"/><circle cx="130" cy="5" r="16"/>
<circle cx="455" cy="85" r="102" stroke-width="1.5"/><circle cx="455" cy="85" r="118"/>
<circle cx="258" cy="125" r="50"/><circle cx="258" cy="125" r="38"/>
<circle cx="410" cy="255" r="16"/><circle cx="410" cy="255" r="8"/><circle cx="535" cy="205" r="18"/><circle cx="535" cy="205" r="9"/><circle cx="620" cy="130" r="14"/><circle cx="590" cy="30" r="22"/><circle cx="590" cy="30" r="12"/><circle cx="615" cy="215" r="12"/><circle cx="290" cy="55" r="14"/><circle cx="215" cy="180" r="8"/>
<path d="M615,230 L615,300 M440,290 L620,290 M470,300 L610,300 L610,345 L470,345 Z M440,290 L470,400 L500,423"/>
<path d="M215,120 C250,250 400,300 600,270 M200,60 L200,300 M215,20 L230,80 M320,90 L400,140 L390,160 L330,110 Z M360,180 C420,220 500,230 560,190 M300,180 C340,240 420,270 520,260 L600,240 M640,150 L640,200"/>
<path d="M650,30 L640,100 L680,130 L660,200 L620,270 M670,20 L665,95 L700,125 L685,200 L640,280 M700,30 C690,60 690,90 700,110 M660,60 C670,80 670,100 660,120"/>
<circle cx="900" cy="95" r="76" stroke-width="1.5"/><circle cx="900" cy="95" r="60"/>
<path d="M740,60 C735,150 800,195 870,192 L880,240 L960,300 M760,40 C800,0 1000,-10 1040,50 M870,192 C950,190 1000,160 1010,130 M705,130 L740,120"/>
<circle cx="705" cy="130" r="12"/>
<path d="M975,60 L1050,65 L1050,130 L975,125 M990,75 L990,115 M1000,75 L1000,115"/>
<path d="M1080,0 L1070,50 L1045,70 L1050,130 L1040,160 L1060,185 L1050,210 L1080,300 L1100,340 L1080,380 L1040,395 L1000,400 M1050,0 L1045,60"/>
<circle cx="1065" cy="158" r="14"/><circle cx="1065" cy="158" r="6"/><circle cx="940" cy="245" r="24"/><circle cx="940" cy="245" r="12"/><circle cx="1055" cy="360" r="28"/><circle cx="1055" cy="360" r="14"/><circle cx="975" cy="330" r="14"/><circle cx="930" cy="320" r="10"/><circle cx="975" cy="375" r="8"/>
<path d="M670,250 L700,220 L735,205 L760,230 L765,290 L740,320 L710,335 L680,310 Z"/><circle cx="720" cy="275" r="30"/><circle cx="735" cy="215" r="8"/><circle cx="710" cy="330" r="8"/>
<circle cx="840" cy="310" r="45" stroke-width="1.6"/><circle cx="840" cy="310" r="32"/><circle cx="840" cy="310" r="20"/>
<path d="M620,330 L690,330 M800,330 L830,400 M860,380 L900,340 L960,300 L1000,310 L1000,400 M940,330 L950,400 L1000,390 M780,200 L830,250 L960,300 M600,390 L640,423 M650,400 C680,380 720,385 740,410 M780,400 L800,423 M860,380 L850,423 M900,400 L940,423"/>
</g>
<g transform="translate(1040,150) scale(0.16548)">
<path d="M200,100 L215,125 L240,120 L270,105 L330,110 L380,130 L410,160 L440,190 L500,215 L520,212 M545,220 L600,215 L650,215 C670,168 710,168 725,215 L745,205 M772,215 L790,220 L800,230 L815,215 L900,195 L960,190 L1020,180 L1060,182"/>
<circle cx="522" cy="232" r="18"/><circle cx="522" cy="232" r="8"/><circle cx="757" cy="215" r="16"/><circle cx="757" cy="215" r="7"/>
<path d="M600,170 L620,250 L640,248 L620,168 Z M530,250 L545,282 L552,278 L538,248"/>
<path d="M930,120 L930,270 M755,235 L755,290 M610,235 L610,280 M520,250 L520,350 M415,60 L415,200 M348,130 L348,280"/>
<path d="M850,100 L870,190 L920,130 M780,120 L800,180 L830,175 L840,130 M900,100 L860,190 M950,85 L1000,100 L1000,175 L960,185 Z M420,90 C440,150 470,190 510,212 M440,85 C455,130 480,170 515,195"/>
<circle cx="978" cy="125" r="10"/><circle cx="978" cy="160" r="8"/><circle cx="930" cy="105" r="12"/>
</g>
<g transform="translate(1040,185) scale(0.16548)">
<path d="M348,0 L348,65 M520,50 L520,140 M610,0 L610,70 M755,20 L755,80 M930,0 L930,55 M950,237 L1010,237 M238,340 L238,423"/>
<circle cx="520" cy="18" r="11"/><path d="M515,28 L535,65 L548,60 L530,25 M620,0 L630,40 L648,35 L640,0 M740,0 L745,18 L770,18 L775,0 M480,0 C600,25 800,25 900,0"/>
</g>
<g transform="translate(1000,195) scale(0.11820)">
<path d="M130,110 L265,45 L575,195 M640,235 L765,290" stroke-width="0.7"/>
<path d="M250,162 L290,145 L358,172 M258,208 L322,238 M250,162 C235,170 238,200 258,208"/>
<ellipse cx="347" cy="210" rx="35" ry="31" transform="rotate(-20 347 210)"/><ellipse cx="349" cy="212" rx="22" ry="19" transform="rotate(-20 349 212)"/>
<path d="M305,238 L305,335 M462,292 L462,395 M955,365 L1050,365"/>
<path d="M405,232 L395,262 M418,237 L408,268 M431,243 L421,274 M444,249 L434,280 M457,255 L447,286 M470,261 L460,292 M483,267 L473,298 M496,273 L486,304 M509,279 L499,310 M522,285 L512,314 M535,291 L527,316" stroke-width="1.05"/>
<path d="M405,232 L535,291 M395,262 L527,316"/>
<path d="M570,205 L590,190 L625,190 L650,215 L700,260 L725,300 L730,350 L715,385 L680,395 L660,380 L680,365 L690,340 L660,300 L620,270 L590,255 L570,230 Z M650,215 L640,240 L680,280 L710,320 L715,360"/><circle cx="603" cy="215" r="20"/><circle cx="603" cy="215" r="9"/>
<path d="M772,282 L770,298 M784,288 L780,306 M796,294 L792,312 M808,300 L804,318 M820,306 L816,324 M832,312 L828,330 M844,318 L840,336 M856,324 L852,342 M868,330 L864,348" stroke-width="1.05"/>
<path d="M768,282 L880,338 M762,300 L872,356"/>
<path d="M872,350 L890,325 L925,322 L950,340 L958,370 L940,398 L905,402 L880,385 Z M890,325 L905,360 L905,402 M905,360 L958,370"/>
</g>
<g transform="translate(1000,250) scale(0.16548)">
<path d="M480,0 L480,25 M190,150 L255,150 M188,288 L188,350 M690,400 L745,400"/>
<path d="M0,160 L110,215 M235,275 L320,310 M440,310 L545,355" stroke-width="0.7"/>
<g transform="rotate(-25 148 168)"><ellipse cx="148" cy="168" rx="46" ry="40" stroke-width="1.8"/><ellipse cx="152" cy="168" rx="28" ry="25"/><ellipse cx="154" cy="168" rx="12" ry="13"/></g>
<ellipse cx="203" cy="258" rx="32" ry="28" stroke-width="1.9"/>
<path d="M690,172 L720,180 L715,195 L692,190 Z M748,176 L828,160 C836,160 836,168 828,170 L750,188"/><circle cx="735" cy="183" r="12"/>
<path d="M0,30 L60,50 L120,20 L125,90 L75,130 L40,110 L0,95 M60,50 L75,130 M0,60 C10,62 15,75 10,90"/><circle cx="95" cy="98" r="10"/><circle cx="100" cy="60" r="6"/>
</g>
<g transform="translate(1030,280) scale(0.11765)">
<path d="M205,190 L240,170 L275,130 L310,115 L345,130 L355,165 L350,215 L330,255 L300,290 L265,310 L245,300 L270,270 L275,240 L240,235 L215,240 L205,215 Z M240,170 L250,200 L290,195 L320,200 M275,240 L300,225 L340,215 M215,240 L220,285"/>
<circle cx="322" cy="150" r="13" stroke-width="1.6"/>
<path d="M265,300 L290,310 L275,285 Z" fill="#333"/>
<path d="M285,292 L215,300 C170,295 140,285 130,270 C100,240 85,220 85,190 C82,150 90,120 100,100 C120,70 145,50 170,40 C200,25 230,18 260,15 L420,10 L700,0 M270,283 L210,285 C180,282 160,272 145,260 C120,240 105,215 105,190 C102,160 108,130 118,110 C135,85 155,68 180,55 C210,40 240,33 265,30 L420,25 L690,12"/>
<path d="M275,320 L275,410"/>
</g>
<g transform="translate(1000,310) scale(0.16548)">
<path d="M378,45 L378,110 M622,180 L622,235"/>
<path d="M390,35 L520,95" stroke-width="0.7"/>
</g>
<g stroke="#333" stroke-width="0.2" fill="#222"><text transform="translate(849.8,133.5) scale(1.22,1)">14</text>
<text transform="translate(768.7,247.7) scale(1.22,1)">14</text>
<text transform="translate(840.5,202.2) scale(1.22,1)">10</text>
<text transform="translate(583.1,108.2) scale(1.22,1)">8</text>
<text transform="translate(625.3,101.9) scale(1.22,1)">20</text>
<text transform="translate(866.7,158.5) scale(1.22,1)">10</text>
<text transform="translate(870.9,181.1) scale(1.22,1)">16</text>
<text transform="translate(937.9,147.2) scale(1.22,1)">3</text>
<text transform="translate(1025.5,157.1) scale(1.22,1)">17</text>
<text transform="translate(1032.0,244.5) scale(1.22,1)">4</text>
<text transform="translate(882.5,326.9) scale(1.22,1)">15</text>
<text transform="translate(926.3,350.1) scale(1.22,1)">16</text>
<text transform="translate(908.1,326.9) scale(1.22,1)">2</text>
<text transform="translate(972.6,305.4) scale(1.22,1)">13</text>
<text transform="translate(980.1,316.2) scale(1.22,1)">9</text>
<text transform="translate(1024.3,317.3) scale(1.22,1)">12</text>
<text transform="translate(959.9,362.1) scale(1.22,1)">15</text>
<text transform="translate(999.1,366.2) scale(1.22,1)">15</text>
<text transform="translate(1076.2,76.7) scale(1.22,1)">19</text>
<text transform="translate(1125.5,60.2) scale(1.22,1)">19</text>
<text transform="translate(1140.8,70.8) scale(1.22,1)">19</text>
<text transform="translate(1170.2,75.1) scale(1.22,1)">19</text>
<text transform="translate(1233.1,114.3) scale(1.22,1)">17</text>
<text transform="translate(1232.3,145.1) scale(1.22,1)">17</text>
<text transform="translate(1090.0,206.3) scale(1.22,1)">17</text>
<text transform="translate(1102.4,193.6) scale(1.22,1)">19</text>
<text transform="translate(1122.2,217.9) scale(1.22,1)">17</text>
<text transform="translate(1134.7,206.3) scale(1.22,1)">19</text>
<text transform="translate(1157.8,207.9) scale(1.22,1)">17</text>
<text transform="translate(1186.8,203.8) scale(1.22,1)">19</text>
<text transform="translate(1208.3,227.0) scale(1.22,1)">18</text>
<text transform="translate(1124.7,241.0) scale(1.22,1)">16</text>
<text transform="translate(1050.3,251.0) scale(1.22,1)">5</text>
<text transform="translate(1076.0,264.2) scale(1.22,1)">6</text>
<text transform="translate(1042.9,278.4) scale(1.22,1)">11</text>
<text transform="translate(1123.6,318.8) scale(1.22,1)">15</text>
<text transform="translate(1059.1,337.9) scale(1.22,1)">7</text>
<text transform="translate(1095.5,358.3) scale(1.22,1)">15</text>
<text transform="translate(814.6,318.8) scale(1.22,1)">2</text>
<text transform="translate(1024.3,134.3) scale(1.22,1)">17</text>
<text transform="translate(647.1,240.3) scale(1.22,1)">8</text></g>
</g>
</svg>
</body></html>
